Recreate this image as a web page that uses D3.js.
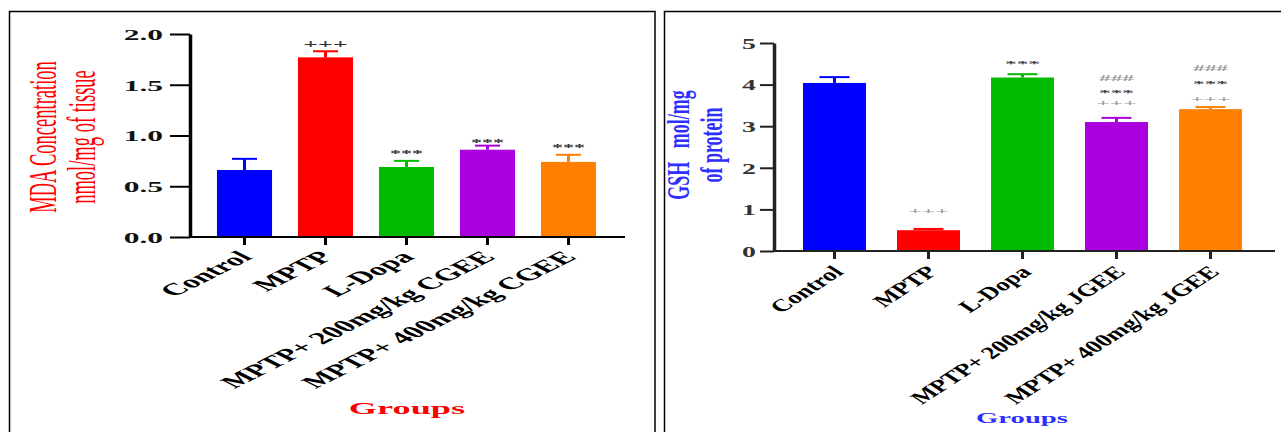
<!DOCTYPE html>
<html><head><meta charset="utf-8">
<script src="https://cdn.jsdelivr.net/npm/d3@7"></script>
<style>body{margin:0;background:#fff} svg{display:block}</style>
</head><body>
<svg id="chart" width="1281" height="432"></svg>
<script>
// ---------- data ----------
const mdaCategories = ["Control", "MPTP", "L-Dopa", "MPTP+ 200mg/kg CGEE", "MPTP+ 400mg/kg CGEE"];
const mdaValues = [0.66, 1.77, 0.69, 0.86, 0.74];
const mdaErrors = [0.11, 0.06, 0.06, 0.04, 0.07];
const mdaTicks = [0, 0.5, 1.0, 1.5, 2.0];
const mdaMarks = [[], [["+++", 1.90]], [["***", 0.84]], [["***", 0.946]], [["***", 0.90]]];
const mdaTitle = ["MDA Concentration", "nmol/mg of tissue"];

const gshCategories = ["Control", "MPTP", "L-Dopa", "MPTP+ 200mg/kg JGEE", "MPTP+ 400mg/kg JGEE"];
const gshValues = [4.04, 0.50, 4.17, 3.10, 3.41];
const gshErrors = [0.14, 0.03, 0.08, 0.10, 0.05];
const gshTicks = [0, 1, 2, 3, 4, 5];
const gshMarks = [[], [["+++", 0.96]], [["***", 4.52]],
  [["+++", 3.55], ["***", 3.84], ["###", 4.16]],
  [["+++", 3.65], ["***", 4.04], ["###", 4.40]]];
const gshTitle = ["GSH\u00A0\u00A0\u00A0mol/mg", "of protein"];

const xTitle = "Groups";
const barColors = ["#0000ff", "#ff0000", "#00bb00", "#aa00dd", "#ff8000"];

// ---------- drawing ----------
const SERIF = "'Liberation Serif','Times New Roman',serif";
const svg = d3.select("#chart");

function stretch(x, y, sx, rot) {
  return `translate(${x},${y}) scale(${sx},1)` + (rot ? ` rotate(${rot})` : "");
}

// panel frames
svg.append("rect").attr("x", 9.5).attr("y", 11.5).attr("width", 645.5).attr("height", 440)
  .attr("fill", "none").attr("stroke", "#000").attr("stroke-width", 1.5);
svg.append("rect").attr("x", 664.5).attr("y", 11.5).attr("width", 640).attr("height", 440)
  .attr("fill", "none").attr("stroke", "#000").attr("stroke-width", 1.5);

function drawPanel(c) {
  const g = svg.append("g");
  const x = d3.scaleBand().domain(c.categories).range(c.xRange)
    .paddingInner(c.padIn).paddingOuter(c.padOut);
  const y = d3.scaleLinear().domain(c.domain).range(c.yRange);
  const cx = i => x(c.categories[i]) + x.bandwidth() / 2;

  // bars
  g.selectAll("rect.bar").data(c.values).join("rect").attr("class", "bar")
    .attr("x", (d, i) => x(c.categories[i]))
    .attr("y", d => y(d))
    .attr("width", x.bandwidth())
    .attr("height", d => y(0) - y(d))
    .attr("fill", (d, i) => barColors[i]);

  // error bars
  c.values.forEach((v, i) => {
    const top = y(v + c.errors[i]);
    g.append("line").attr("x1", cx(i)).attr("x2", cx(i)).attr("y1", y(v)).attr("y2", top)
      .attr("stroke", barColors[i]).attr("stroke-width", 3);
    g.append("line").attr("x1", cx(i) - c.capW / 2).attr("x2", cx(i) + c.capW / 2)
      .attr("y1", top).attr("y2", top)
      .attr("stroke", barColors[i]).attr("stroke-width", 2);
  });

  // y axis
  const ya = g.append("g").attr("transform", `translate(${c.axisX0},0)`)
    .call(d3.axisLeft(y).tickValues(c.ticks).tickFormat(d3.format(c.fmt))
      .tickSize(c.tickSize).tickSizeOuter(0));
  ya.select(".domain").attr("stroke", c.axisColor).attr("stroke-width", 3.5);
  ya.selectAll(".tick line").attr("stroke", c.axisColor).attr("stroke-width", 2);
  ya.selectAll(".tick text")
    .attr("x", null).attr("dy", "0.35em")
    .attr("transform", stretch(-(c.tickSize + c.labelGap), 0, c.tickSx))
    .attr("text-anchor", "end")
    .attr("fill", c.tickColor)
    .style("font-family", SERIF).style("font-size", c.tickFont + "px").style("font-weight", "bold");

  // x axis
  const xa = g.append("g").attr("transform", `translate(0,${y(0)})`)
    .call(d3.axisBottom(x).tickSize(8).tickSizeOuter(0));
  xa.select(".domain").remove();
  xa.selectAll(".tick line").attr("stroke", c.axisColor).attr("stroke-width", 3);
  xa.selectAll(".tick text")
    .attr("y", null).attr("dy", null)
    .attr("transform", stretch(c.xLabelDx, c.xLabelDy, c.xLabelSx, -45))
    .attr("text-anchor", "end")
    .attr("fill", "#000")
    .style("font-family", SERIF).style("font-size", c.xLabelFont + "px").style("font-weight", "bold");
  g.append("line").attr("x1", c.axisX0).attr("x2", c.axisX1).attr("y1", y(0)).attr("y2", y(0))
    .attr("stroke", c.axisColor).attr("stroke-width", 2);

  // significance marks: one text per bar, stacked lines as tspans
  c.marks.forEach((arr, i) => {
    if (!arr.length) return;
    const t = g.append("text")
      .attr("transform", stretch(cx(i), 0, c.markSx))
      .attr("text-anchor", "middle")
      .style("font-family", SERIF).style("font-weight", "bold");
    arr.forEach(([sym, lvl]) => {
      const fs = c.markFont[sym[0]];
      const shift = sym[0] === "*" ? 0.5 * fs : 0.32 * fs;
      t.append("tspan").attr("x", 0).attr("y", y(lvl) + shift)
        .attr("fill", c.markColor[sym[0]])
        .style("font-size", fs + "px")
        .text(sym);
    });
  });

  // y title
  c.title.forEach((t, k) => {
    g.append("text")
      .attr("transform", stretch(c.titleX[k], c.titleY, c.titleSx, -90))
      .attr("text-anchor", "middle")
      .attr("fill", c.titleColor)
      .style("font-family", SERIF).style("font-size", c.titleFont + "px")
      .style("font-weight", c.titleWeight)
      .text(t);
  });

  // x title
  g.append("text")
    .attr("transform", stretch(c.groupsX, c.groupsY, c.groupsSx))
    .attr("text-anchor", "middle")
    .attr("fill", c.titleColor)
    .style("font-family", SERIF).style("font-size", c.groupsFont + "px").style("font-weight", "bold")
    .text(xTitle);
}

drawPanel({
  categories: mdaCategories, values: mdaValues, errors: mdaErrors, ticks: mdaTicks, marks: mdaMarks,
  xRange: [204, 609], padIn: 0.32, padOut: 0.16, domain: [0, 2], yRange: [237, 34],
  axisX0: 190, axisX1: 625, axisColor: "#000", fmt: ".1f", tickSize: 20, labelGap: 7,
  tickFont: 15, tickSx: 2.1, tickColor: "#111",
  xLabelFont: 17, xLabelSx: 2.0, xLabelDx: 9, xLabelDy: 21,
  capW: 25, markFont: {"+": 13, "*": 11, "#": 13}, markSx: 2.0,
  markColor: {"+": "#333", "*": "#333", "#": "#333"},
  title: mdaTitle, titleX: [56, 95], titleY: 137, titleSx: 2.2, titleFont: 18.5, titleWeight: "normal",
  titleColor: "#ff0000",
  groupsX: 407, groupsY: 414, groupsSx: 2.2, groupsFont: 16.5
});

drawPanel({
  categories: gshCategories, values: gshValues, errors: gshErrors, ticks: gshTicks, marks: gshMarks,
  xRange: [787.5, 1257.5], padIn: 0.33, padOut: 0.165, domain: [0, 5], yRange: [251, 43],
  axisX0: 774, axisX1: 1275, axisColor: "#222", fmt: "d", tickSize: 14, labelGap: 4,
  tickFont: 15, tickSx: 1.85, tickColor: "#333",
  xLabelFont: 17.5, xLabelSx: 1.55, xLabelDx: 10, xLabelDy: 22,
  capW: 30, markFont: {"+": 9, "*": 9, "#": 9}, markSx: 2.6,
  markColor: {"+": "#999", "*": "#444", "#": "#999"},
  title: gshTitle, titleX: [689, 722], titleY: 145, titleSx: 1.75, titleFont: 18, titleWeight: "bold",
  titleColor: "#2f2fff",
  groupsX: 1022, groupsY: 423, groupsSx: 1.85, groupsFont: 15.5
});
</script>
</body></html>
